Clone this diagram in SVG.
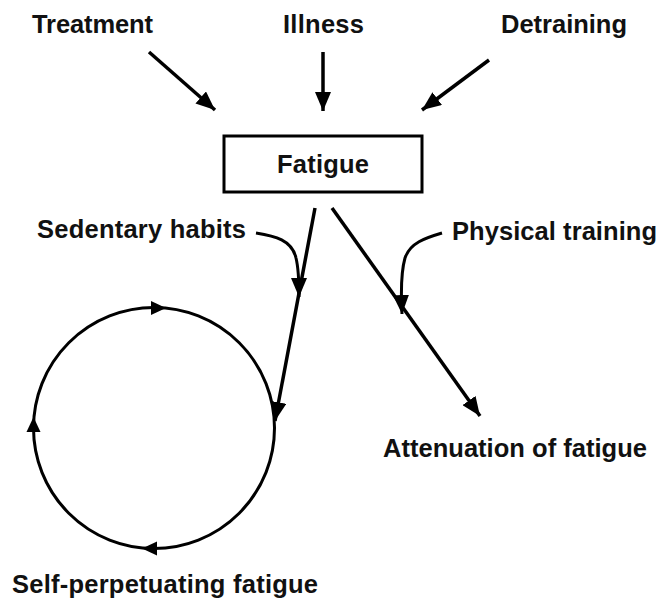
<svg xmlns="http://www.w3.org/2000/svg" xmlns:xlink="http://www.w3.org/1999/xlink" width="662" height="601" viewBox="0 0 662 601">
<style>
text{font-family:"Liberation Sans",Arial,sans-serif;font-weight:bold;font-size:25.5px;fill:#111}
.ln{stroke:#000;stroke-width:3.5;fill:none}
.cv{stroke:#000;stroke-width:3;fill:none}
</style>
<defs>
<marker id="arr" markerUnits="userSpaceOnUse" markerWidth="20" markerHeight="16" refX="19" refY="8" orient="auto">
<path d="M0,0 L19,8 L0,16 z" fill="#000"/>
</marker>
<path id="ah" d="M0,0 L-15,-7 L-15,7 z" fill="#000"/>
</defs>
<rect width="662" height="601" fill="#fff"/>
<g id="treatment"><text x="32" y="33" textLength="121">Treatment</text></g>
<g id="illness"><text x="283" y="33" textLength="81">Illness</text></g>
<g id="detraining"><text x="501" y="33" textLength="126">Detraining</text></g>
<g id="fatigue">
<rect x="224" y="136" width="198" height="56" fill="#fff" stroke="#000" stroke-width="3"/>
<text x="277" y="173" textLength="92">Fatigue</text>
</g>
<g id="sedentary"><text x="37" y="238" textLength="209">Sedentary habits</text></g>
<g id="physical"><text x="452" y="240" textLength="205">Physical training</text></g>
<g id="attenuation"><text x="383" y="457" textLength="264">Attenuation of fatigue</text></g>
<g id="selfperpetuating">
<circle cx="154" cy="428" r="120.5" class="cv"/>
<use xlink:href="#ah" transform="translate(166,308)"/>
<use xlink:href="#ah" transform="translate(142,548.5) rotate(180)"/>
<use xlink:href="#ah" transform="translate(33.5,417) rotate(-90)"/>
<text x="12" y="593" textLength="306">Self-perpetuating fatigue</text>
</g>
<g id="connectors">
<line x1="149" y1="52" x2="215" y2="110" class="ln" marker-end="url(#arr)"/>
<line x1="323" y1="52" x2="323" y2="111" class="ln" marker-end="url(#arr)"/>
<line x1="489" y1="60" x2="422" y2="110" class="ln" marker-end="url(#arr)"/>
<line x1="315" y1="208" x2="275" y2="421" class="ln" stroke-width="4" marker-end="url(#arr)"/>
<line x1="332" y1="208" x2="480" y2="416" class="ln" marker-end="url(#arr)"/>
<path d="M256,233 C275,236 292,240 296,258 C299,270 299,282 299,297" class="cv" marker-end="url(#arr)"/>
<path d="M442,233 C425,238 410,243 405,258 C401,272 401,295 402,314" class="cv" marker-end="url(#arr)"/>
</g>
</svg>
